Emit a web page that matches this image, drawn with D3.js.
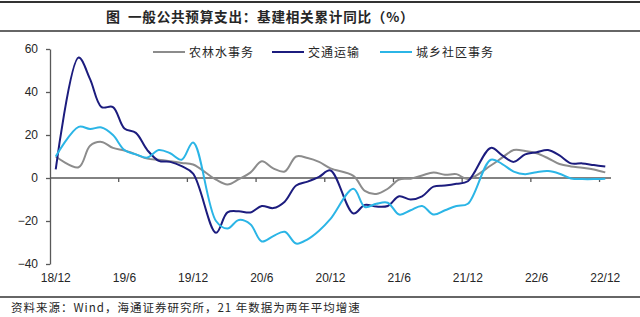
<!doctype html>
<html>
<head>
<meta charset="utf-8">
<style>
  body { margin: 0; background: #fff; }
  svg { display: block; }
  text { font-family: 'Liberation Sans', Arial, sans-serif; fill: #262626; }
  text.cjk { font-family: 'Noto Sans CJK SC', sans-serif; }
  .axis path, .axis line { stroke: #595959; stroke-width: 1.3; }
  .axis text { font-size: 12px; fill: #262626; }
  .series { fill: none; stroke-width: 2; }
</style>
<script src="https://d3js.org/d3.v7.min.js"></script>
</head>
<body>
<svg width="640" height="317"></svg>
<script>
// months, 18/12 .. 22/12 (January is reported together with February -> null)
const months = ['18/12',
  '19/1','19/2','19/3','19/4','19/5','19/6','19/7','19/8','19/9','19/10','19/11','19/12',
  '20/1','20/2','20/3','20/4','20/5','20/6','20/7','20/8','20/9','20/10','20/11','20/12',
  '21/1','21/2','21/3','21/4','21/5','21/6','21/7','21/8','21/9','21/10','21/11','21/12',
  '22/1','22/2','22/3','22/4','22/5','22/6','22/7','22/8','22/9','22/10','22/11','22/12'];

const tickLabels = ['18/12','19/6','19/12','20/6','20/12','21/6','21/12','22/6','22/12'];
const yTicks = [-40, -20, 0, 20, 40, 60];

const seriesNames = ['农林水事务', '交通运输', '城乡社区事务'];

const nonglinshui = [10, null, 5, 15, 16.8, 14, 12.8, 11, 9, 8.5, 7.8, 7, 6.3,
  null, -0.8, -3, -0.5, 2.5, 7.8, 4.5, 3, 10, 9.3, 7.5, 4.5,
  null, 1, -6, -7.4, -5, -0.7, -0.3, 1.2, 2.6, 1.5, 1.8, -0.5,
  null, 5.8, 9.5, 13, 12.6, 11.5, 9.2, 6.5, 5.4, 4.8, 4, 2.6];

const jiaotong = [4, null, 56, 46, 33, 33, 23, 21, 13, 8, 7.5, 5.5, 2,
  null, -25.5, -16, -15.5, -16, -13, -14, -11, -3.5, -1.7, 0.5, 3.5,
  null, -16.5, -12.5, -13.3, -13, -8.5, -10, -8.5, -4, -3.5, -2.7, -1.5,
  null, 14, 10.5, 7.5, 11, 12, 13, 10.5, 6.8, 6.8, 6, 5.3];

const chengxiang = [10, null, 23.8, 22.8, 23.5, 20, 13, 11, 9.5, 13, 11.5, 8.5, 16.5,
  null, -20, -23.5, -19.5, -21.5, -29.5, -27, -25, -30.5, -28.5, -24.5, -19,
  null, -5, -13.5, -12, -11.5, -17, -15, -13, -17, -15, -13, -12,
  null, 8.5, 6.5, 3, 1.8, 2.7, 3.2, 2, -0.2, -0.5, -0.5, -0.3];

const colors = ['#8c8c8c', '#1c1c7e', '#2bb5e6'];

const svg = d3.select('svg');

// title and rules
svg.append('line').attr('x1', 0).attr('x2', 640).attr('y1', 2).attr('y2', 2)
  .attr('stroke', '#333').attr('stroke-width', 2);
svg.append('line').attr('x1', 0).attr('x2', 640).attr('y1', 31).attr('y2', 31)
  .attr('stroke', '#333').attr('stroke-width', 1.5);
svg.append('text').attr('class', 'cjk')
  .attr('x', 106).attr('y', 22)
  .attr('font-size', 14).attr('font-weight', 700)
  .text('图');
svg.append('text').attr('class', 'cjk')
  .attr('x', 128).attr('y', 22)
  .attr('font-size', 13.6).attr('font-weight', 700)
  .attr('letter-spacing', 0.75)
  .text('一般公共预算支出：基建相关累计同比（%）');

// footer
svg.append('line').attr('x1', 0).attr('x2', 640).attr('y1', 297).attr('y2', 297)
  .attr('stroke', '#333').attr('stroke-width', 1.5);
svg.append('text').attr('class', 'cjk')
  .attr('x', 11).attr('y', 312)
  .attr('font-size', 11.5).attr('letter-spacing', 1)
  .text('资料来源：Wind，海通证券研究所，21 年数据为两年平均增速');

// scales
const x = d3.scaleBand().domain(months).range([50, 611]).padding(0);
const y = d3.scaleLinear().domain([-40, 60]).range([264, 49]);
const bw = x.bandwidth();

// y axis
svg.append('g').attr('class', 'axis')
  .attr('transform', 'translate(50,0)')
  .call(d3.axisLeft(y).tickValues(yTicks).tickSize(4).tickPadding(8).tickSizeOuter(0));

// x axis at zero
const xa = svg.append('g').attr('class', 'axis');
xa.append('line').attr('x1', 50).attr('x2', 611).attr('y1', y(0)).attr('y2', y(0));
xa.selectAll('line.tk').data(tickLabels.slice(1)).enter().append('line')
  .attr('class', 'tk')
  .attr('x1', d => x(d)).attr('x2', d => x(d))
  .attr('y1', y(0)).attr('y2', y(0) + 4);
xa.selectAll('text').data(tickLabels).enter().append('text')
  .attr('x', d => x(d) + bw / 2)
  .attr('y', 282)
  .attr('text-anchor', 'middle')
  .text(d => d);

// lines
const allSeries = [nonglinshui, jiaotong, chengxiang];
const line = d3.line()
  .x(d => x(d.m) + bw / 2)
  .y(d => y(d.v))
  .curve(d3.curveCatmullRom.alpha(0.5));

allSeries.forEach((vals, k) => {
  const pts = months.map((m, i) => ({ m: m, v: vals[i] })).filter(d => d.v !== null);
  svg.append('path').attr('class', 'series')
    .attr('stroke', colors[k])
    .attr('d', line(pts));
});

// legend
const legendX = [153, 272, 380];
seriesNames.forEach((name, k) => {
  svg.append('line')
    .attr('x1', legendX[k]).attr('x2', legendX[k] + 32)
    .attr('y1', 52).attr('y2', 52)
    .attr('stroke', colors[k]).attr('stroke-width', 2);
  svg.append('text').attr('class', 'cjk')
    .attr('x', legendX[k] + 36).attr('y', 56.5)
    .attr('font-size', 12).attr('letter-spacing', 1)
    .attr('fill', '#333')
    .text(name);
});
</script>
</body>
</html>
